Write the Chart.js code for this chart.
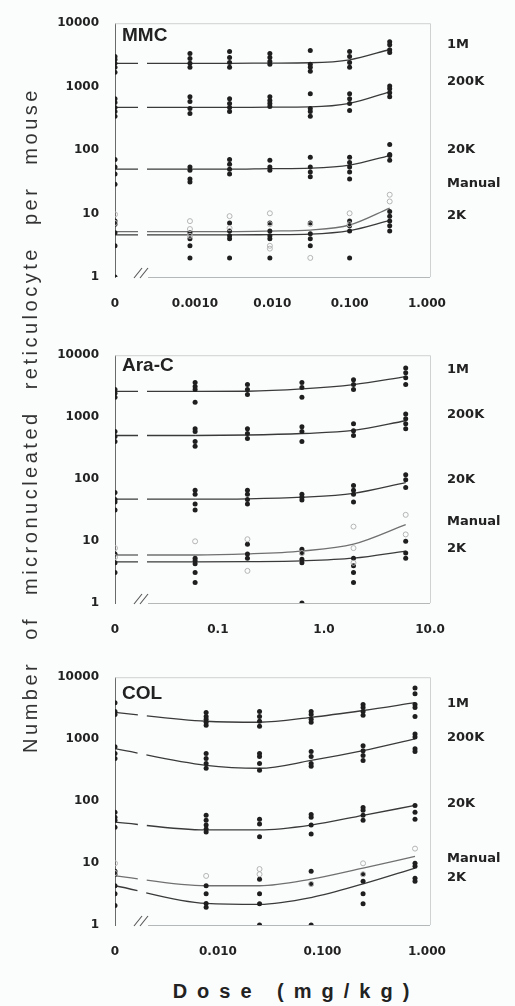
<!DOCTYPE html>
<html>
<head>
<meta charset="utf-8">
<script src="https://cdn.jsdelivr.net/npm/chart.js@4.4.0/dist/chart.umd.min.js"></script>
<style>
  body { margin: 0; width: 515px; height: 1006px; position: relative; overflow: hidden; background: #fbfcfc; color: #222; font-family: "Liberation Sans", Arial, sans-serif; }
  canvas { position: absolute; left: 0; }
  .title { position: absolute; left: 122px; font: bold 19px "Liberation Sans", Arial, sans-serif; line-height: 1; }
  .lbl { position: absolute; left: 447px; font: bold 13px "DejaVu Sans", sans-serif; line-height: 1; }
  #ytitle { position: absolute; left: -320px; top: 407px; width: 700px; height: 26px; line-height: 26px; text-align: center;
    transform: rotate(-90deg); font-size: 20px; letter-spacing: 3.5px; word-spacing: 12px; color: #333; }
  #xtitle { position: absolute; left: 146px; top: 981px; width: 290px; text-align: center; padding-left: 10px; box-sizing: border-box;
    font: bold 20px "Liberation Sans", Arial, sans-serif; line-height: 1; letter-spacing: 10px; }
</style>
</head>
<body>
<canvas id="c1" width="515" height="299" style="top:8px"></canvas>
<canvas id="c2" width="515" height="293" style="top:340px"></canvas>
<canvas id="c3" width="515" height="293" style="top:662px"></canvas>

<div class="title" style="top:25px">MMC</div>
<div class="title" style="top:355px">Ara-C</div>
<div class="title" style="top:683px">COL</div>

<div class="lbl" style="top:37px">1M</div>
<div class="lbl" style="top:74px">200K</div>
<div class="lbl" style="top:142px">20K</div>
<div class="lbl" style="top:176px">Manual</div>
<div class="lbl" style="top:208px">2K</div>

<div class="lbl" style="top:362px">1M</div>
<div class="lbl" style="top:407px">200K</div>
<div class="lbl" style="top:472px">20K</div>
<div class="lbl" style="top:514px">Manual</div>
<div class="lbl" style="top:541px">2K</div>

<div class="lbl" style="top:696px">1M</div>
<div class="lbl" style="top:730px">200K</div>
<div class="lbl" style="top:796px">20K</div>
<div class="lbl" style="top:851px">Manual</div>
<div class="lbl" style="top:870px">2K</div>

<div id="ytitle">Number of micronucleated reticulocyte per mouse</div>
<div id="xtitle">Dose (mg/kg)</div>

<script>
// --- MMC ---
const mmcDoses = [0, 0.00086, 0.0028, 0.0093, 0.031, 0.1, 0.33];
const mmcTickVals = [0, 0.001, 0.01, 0.1, 1];
const mmcTickLabels = ['0', '0.0010', '0.010', '0.100', '1.000'];
const mmc1M = [[2990, 2690, 2330, 2020, 1690], [3320, 2780, 2330, 2020], [3570, 2880, 2410, 2020], [3320, 2880, 2500, 2250], [3700, 2250, 2020, 1750], [3570, 2990, 2410, 2020], [5090, 4570, 3830, 3440]];
const mmc1MFit = [2330, 2330, 2330, 2350, 2380, 2650, 3850];
const mmc200K = [[647, 561, 470, 407, 341], [695, 581, 453, 379], [647, 542, 470, 407], [695, 603, 542, 487], [773, 453, 407, 341], [773, 647, 542, 422], [1027, 923, 800, 695]];
const mmc200KFit = [470, 470, 470, 475, 480, 545, 830];
const mmc20K = [[71, 54, 42, 29], [54, 48, 35, 31.5], [71, 60, 50, 42], [69, 54, 48], [77, 54, 45, 38], [77, 64, 54, 45, 35], [122, 85, 82, 69]];
const mmc20KFit = [50, 50, 50, 51, 52, 58, 82];
const mmcManual = [[9.7, 7.1], [7.6, 5.7, 4.45], [9.1, 5.9], [10.1, 6.8, 3.1, 2.8], [6.8, 2.0], [10.1, 6.8], [19.8, 15.5]];
const mmcManualFit = [5.2, 5.2, 5.2, 5.3, 5.5, 6.6, 12.2];
const mmc2K = [[7.6, 6.8, 5.0, 3.1, 1.0], [5.0, 4.0, 3.1, 2.0], [7.1, 5.3, 4.45, 4.0, 2.0], [7.1, 5.3, 4.45, 4.0, 2.0], [7.1, 4.8, 4.0, 3.1], [7.6, 6.4, 5.3, 2.0], [10.8, 9.1, 7.6, 6.4, 5.3]];
const mmc2KFit = [4.6, 4.6, 4.6, 4.65, 4.75, 5.4, 7.8];

// --- Ara-C ---
const araDoses = [0, 0.061, 0.19, 0.62, 1.9, 5.9];
const araTickVals = [0, 0.1, 1, 10];
const araTickLabels = ['0', '0.1', '1.0', '10.0'];
const ara1M = [[2800, 2420, 2090], [3610, 3120, 2800, 1740], [3360, 2800, 2330], [3610, 3010, 2090], [4020, 3360, 2800], [6230, 5190, 4330, 3360]];
const ara1MFit = [2600, 2600, 2620, 2850, 3350, 4500];
const ara200K = [[585, 488, 406], [652, 585, 406, 339], [652, 544, 453], [701, 585, 406], [782, 606, 506], [1125, 938, 782, 652]];
const ara200KFit = [506, 506, 515, 545, 610, 875];
const ara20K = [[61, 47, 42.5, 31.8], [66, 57, 39.5, 31.8], [66, 57, 47, 39.5], [57, 51, 46], [79, 66, 57, 42.5], [118, 98, 73]];
const ara20KFit = [47.4, 47.4, 48, 51, 59, 88];
const araManual = [[7.7, 5.5], [9.9], [10.7, 3.3], [6.4], [17.1, 7.7, 4.45], [26.5, 12.8]];
const araManualFit = [5.95, 5.95, 6.2, 6.9, 8.9, 18.4];
const ara2K = [[6.2, 4.45, 3.1], [5.3, 4.8, 4.3, 3.1, 2.15], [8.9, 6.2, 5.3], [7.4, 6.4, 5.1, 4.45, 1.0], [5.3, 4.0, 3.1, 2.15], [9.9, 6.4, 5.3]];
const ara2KFit = [4.6, 4.6, 4.65, 4.8, 5.3, 6.9];

// --- COL ---
const colDoses = [0, 0.0077, 0.025, 0.078, 0.245, 0.77];
const colTickVals = [0, 0.01, 0.1, 1];
const colTickLabels = ['0', '0.010', '0.100', '1.000'];
const col1M = [[3880, 2800, 2510], [2700, 2330, 2090, 1875, 1680], [2800, 2330, 1945, 1620], [2800, 2510, 2090, 1875], [3610, 3235, 2800, 2420], [6700, 5390, 3610, 3235, 2330]];
const col1MFit = [2700, 1945, 1875, 2250, 2900, 3880];
const col200K = [[754, 585, 488], [585, 488, 406, 339], [585, 524, 406, 315], [629, 524, 406, 364], [782, 652, 544, 453], [1210, 1086, 701, 629]];
const col200KFit = [701, 378, 339, 453, 652, 1009];
const col20K = [[66, 55, 49, 38], [59, 49, 41, 35.4, 31.8], [51, 42.5, 26.5], [61, 55, 41, 29.5], [79, 71, 59, 49], [85, 66, 51]];
const col20KFit = [45.7, 34.2, 34.2, 41, 59, 85];
const colManual = [[9.9, 6.9], [6.2], [8.0, 6.6], [4.6], [9.9, 6.6], [17.1]];
const colManualFit = [6.2, 4.3, 4.3, 5.5, 8.3, 12.8];
const col2K = [[7.4, 6.6, 4.3, 3.2, 2.07], [4.3, 3.2, 2.23, 1.93], [5.5, 3.2, 2.2, 1.0], [7.4, 4.6, 1.0], [6.6, 5.1, 3.2, 2.2], [9.9, 8.9, 5.7, 5.1]];
const col2KFit = [4.3, 2.23, 2.15, 2.77, 4.6, 8.3];

const yTicks = [1, 10, 100, 1000, 10000];
const tickFont = { family: 'DejaVu Sans', size: 12, weight: 'bold' };

// frame, broken x axis and the "//" mark
const decor = {
  id: 'decor',
  beforeDatasetsDraw(chart) {
    const { ctx, chartArea: a } = chart;
    const bx = a.left + 19;
    ctx.save();
    ctx.lineWidth = 1;
    ctx.strokeStyle = '#cfd2d2';
    ctx.beginPath();
    ctx.moveTo(a.left, a.top + 0.5);
    ctx.lineTo(a.right + 0.5, a.top + 0.5);
    ctx.lineTo(a.right + 0.5, a.bottom);
    ctx.stroke();
    ctx.strokeStyle = '#b5b8b8';
    ctx.beginPath();
    ctx.moveTo(bx + 14, a.bottom + 0.5);
    ctx.lineTo(a.right, a.bottom + 0.5);
    ctx.stroke();
    ctx.strokeStyle = '#555';
    ctx.lineWidth = 1.1;
    [0, 6].forEach(dx => {
      ctx.beginPath();
      ctx.moveTo(bx + dx, a.bottom + 1);
      ctx.lineTo(bx + dx + 8, a.bottom - 9);
      ctx.stroke();
    });
    ctx.restore();
  }
};

function makePanel(id, doses, zero, xMax, tickVals, tickLabels, series) {
  const pos = d => d === 0 ? zero : Math.log10(d);
  const datasets = [];
  series.forEach(s => {
    const pts = [];
    s.pts.forEach((vals, i) => vals.forEach(v => pts.push({ x: pos(doses[i]), y: v })));
    datasets.push({
      data: pts,
      pointRadius: 2.5,
      pointBorderWidth: s.open ? 1 : 0,
      pointBackgroundColor: s.open ? 'rgba(0,0,0,0)' : '#1f1f1f',
      pointBorderColor: s.open ? '#b4b4b4' : '#1f1f1f'
    });
  });
  series.forEach(s => {
    datasets.push({
      data: s.fit.map((v, i) => ({ x: pos(doses[i]), y: v })),
      showLine: true,
      pointRadius: 0,
      borderWidth: 1.3,
      borderColor: s.open ? '#707070' : '#3a3a3a',
      cubicInterpolationMode: 'monotone',
      segment: { borderDash: c => c.p0DataIndex === 0 ? [23, 9, 2000, 0] : undefined }
    });
  });

  new Chart(document.getElementById(id), {
    type: 'scatter',
    data: { datasets },
    plugins: [decor],
    options: {
      responsive: false,
      animation: false,
      layout: { padding: { top: 10, right: 85, left: 0, bottom: 0 } },
      plugins: { legend: { display: false }, tooltip: { enabled: false } },
      scales: {
        x: {
          type: 'linear', min: zero, max: xMax,
          afterBuildTicks: sc => { sc.ticks = tickVals.map(v => ({ value: pos(v) })); },
          afterFit: sc => { sc.height = 30; },
          grid: { display: false },
          border: { display: false },
          ticks: { autoSkip: false, maxRotation: 0, padding: 12, color: '#222', font: tickFont,
            callback: (v, i) => tickLabels[i] }
        },
        y: {
          type: 'logarithmic', min: 1, max: 10000,
          afterBuildTicks: sc => { sc.ticks = yTicks.map(v => ({ value: v })); },
          afterFit: sc => { sc.width = 115; },
          grid: { display: false },
          border: { display: true, color: '#6a6a6a', width: 1 },
          ticks: { padding: 8, color: '#222', font: tickFont, callback: v => String(v) }
        }
      }
    }
  });
}

makePanel('c1', mmcDoses, -4.035, 0.04, mmcTickVals, mmcTickLabels, [
  { pts: mmc1M, fit: mmc1MFit }, { pts: mmc200K, fit: mmc200KFit }, { pts: mmc20K, fit: mmc20KFit },
  { pts: mmcManual, fit: mmcManualFit, open: true }, { pts: mmc2K, fit: mmc2KFit }
]);
makePanel('c2', araDoses, -1.97, 1.0, araTickVals, araTickLabels, [
  { pts: ara1M, fit: ara1MFit }, { pts: ara200K, fit: ara200KFit }, { pts: ara20K, fit: ara20KFit },
  { pts: araManual, fit: araManualFit, open: true }, { pts: ara2K, fit: ara2KFit }
]);
makePanel('c3', colDoses, -2.986, 0.03, colTickVals, colTickLabels, [
  { pts: col1M, fit: col1MFit }, { pts: col200K, fit: col200KFit }, { pts: col20K, fit: col20KFit },
  { pts: colManual, fit: colManualFit, open: true }, { pts: col2K, fit: col2KFit }
]);
</script>
</body>
</html>
